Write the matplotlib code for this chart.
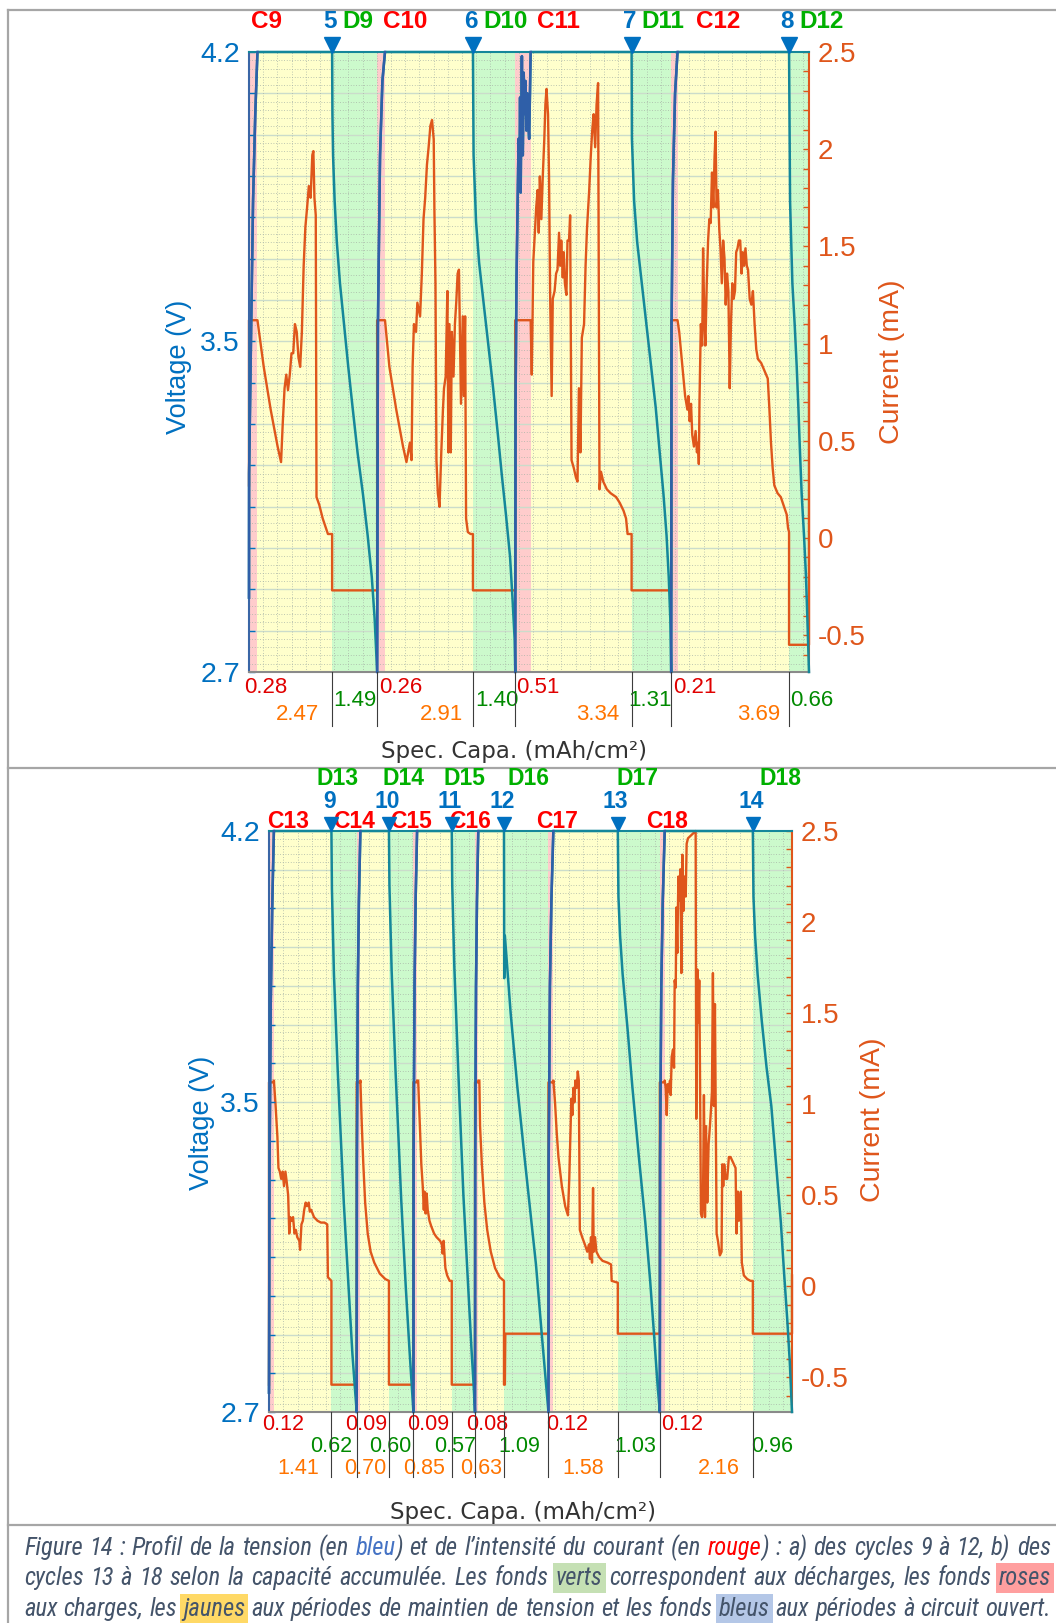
import matplotlib
matplotlib.use("Agg")
import matplotlib.pyplot as plt
import numpy as np
from matplotlib import font_manager
from matplotlib.font_manager import FontProperties
from matplotlib.lines import Line2D
from matplotlib.transforms import blended_transform_factory, ScaledTranslation

W, H, DPI = 1056, 1623, 100

plt.rcParams["font.family"] = ["Liberation Sans", "DejaVu Sans"]
plt.rcParams["axes.unicode_minus"] = False

# ---------------------------------------------------------------- data ----
I_CHARGE = 1.12            # mA, constant-current charge

# panel a : cycles 9-12
top_cycles = [9, 10, 11, 12]
top_steps = [5, 6, 7, 8]
top_charge = [0.28, 0.26, 0.51, 0.21]       # mAh/cm2, CC charge
top_hold = [2.47, 2.91, 3.34, 3.69]         # mAh/cm2, CV hold
top_dis = [1.49, 1.40, 1.31, 0.66]          # mAh/cm2, discharge
top_i_start, top_i_end = 0.27, 1.12

top_chg_f = [[0, 0.01, 0.26, 0.48, 0.74, 1.0],
             [0, 0.10, 0.37, 0.67, 1.0],
             [0, .02, .078, .157, .216, .275, .314, .353, .392, .431, .49, .549,
              .608, .667, .725, .784, .843, .902, .941, 1.0],
             [0, .056, .278, .611, 1.0]]
top_chg_v = [[2.88, 3.18, 3.54, 3.84, 4.05, 4.2],
             [2.7, 3.54, 3.95, 4.13, 4.2],
             [2.7, 3.34, 3.64, 3.84, 3.99, 3.89, 4.09, 3.86, 4.05, 4.19, 3.95, 4.15,
              4.05, 4.13, 4.01, 4.10, 4.03, 3.99, 4.07, 4.2],
             [2.7, 3.54, 3.89, 4.1, 4.2]]

top_hold_f = [
    [0, .084, .177, .27, .316, .34, .363, .386, .409, .433, .456, .479, .502, .526,
     .549, .572, .595, .605, .619, .642, .665, .688, .712, .735, .749, .763, .781,
     .791, .828, .874, .944, 1.0],
    [0, .05, .128, .205, .244, .264, .283, .302, .314, .329, .353, .368, .399, .419,
     .438, .457, .477, .496, .516, .535, .554, .562, .574, .585, .601, .620, .640,
     .659, .671, .690, .709, .721, .733, .748, .760, .779, .795, .810, .826, .841,
     .849, .864, .884, .895, .911, .922, .942, .973, 1.0],
    [0, .011, .026, .044, .055, .069, .080, .091, .106, .120, .135, .146, .157, .172,
     .182, .193, .208, .219, .237, .252, .266, .281, .292, .303, .318, .328, .339,
     .354, .365, .380, .391, .405, .427, .449, .464, .478, .493, .507, .529, .544,
     .558, .580, .595, .609, .624, .639, .653, .668, .675, .682, .697, .719, .755,
     .792, .847, .883, .920, .945, .960, 1.0],
    [0, .015, .044, .068, .088, .097, .109, .121, .132, .147, .162, .174, .185, .191,
     .197, .209, .221, .229, .241, .25, .262, .274, .285, .297, .309, .321, .332,
     .341, .35, .362, .374, .385, .397, .409, .421, .432, .444, .456, .468, .479,
     .491, .503, .515, .526, .538, .55, .562, .574, .585, .597, .609, .621, .632,
     .647, .662, .676, .691, .706, .721, .75, .779, .809, .824, .838, .853, .868,
     .897, .926, .956, .979, .991, 1.0],
]
top_hold_i = [
    [1.12, .88, .66, .47, .39, .60, .77, .84, .76, .84, .95, .95, 1.10, 1.06, .93,
     .88, 1.06, 1.20, 1.40, 1.60, 1.70, 1.81, 1.75, 1.97, 1.99, 1.75, 1.66, .21, .17,
     .10, .02, .02],
    [1.12, .88, .66, .47, .39, .44, .49, .40, .88, 1.10, 1.06, 1.21, 1.14, 1.36,
     1.64, 1.75, 1.92, 2.01, 2.12, 2.15, 2.05, 1.68, 1.31, .40, .23, .16, .44, .66,
     .77, .83, 1.27, .44, 1.10, .44, 1.06, .83, 1.10, 1.21, 1.36, 1.38, 1.14, .69,
     1.14, .73, 1.14, .10, .03, .02, .02],
    [1.12, .84, 1.42, 1.59, 1.70, 1.79, 1.57, 1.86, 1.64, 1.86, 2.05, 2.23, 2.31,
     2.18, 1.86, 1.25, .73, 1.23, 1.27, 1.36, 1.38, 1.57, 1.40, 1.53, 1.34, 1.47,
     1.31, 1.25, 1.53, 1.53, 1.66, .40, .36, .31, .29, .77, .44, 1.03, 1.10, 1.40,
     1.59, 1.79, 1.96, 2.09, 2.18, 2.01, 2.23, 2.34, 1.31, .25, .34, .29, .25, .23,
     .21, .18, .14, .10, .02, .02],
    [1.12, 1.06, .88, .73, .66, .73, .60, .69, .53, .47, .55, .44, .49, .38, .71,
     1.10, .99, 1.49, 1.10, .99, 1.31, 1.53, 1.64, 1.62, 1.88, 1.70, 1.96, 2.09,
     1.70, 1.79, 1.59, 1.49, 1.31, 1.53, 1.44, 1.20, 1.36, 1.27, .77, 1.10, 1.31,
     1.23, 1.27, 1.47, 1.49, 1.53, 1.53, 1.36, 1.47, 1.40, 1.49, 1.40, 1.38, 1.23,
     1.20, 1.27, 1.10, .97, .92, .90, .86, .82, .66, .49, .36, .27, .23, .21, .16,
     .12, .05, .03],
]

top_dis_f = [[0, .007, .021, .056, .105, .175, .266, .357, .455, .566, .685, .790, .881, .944, 1.0],
             [0, .015, .073, .146, .255, .365, .474, .584, .679, .781, .876, .934, .985, 1.0],
             [0, .008, .063, .141, .258, .375, .492, .609, .711, .805, .883, .938, .977, 1.0],
             [0, .05, .167, .283, .383, .467, .55, .633, .75, .85, .917, 1.0]]
top_dis_v = [[4.2, 4.05, 3.95, 3.84, 3.74, 3.64, 3.54, 3.44, 3.34, 3.23, 3.13, 3.03, 2.93, 2.83, 2.7],
             [4.2, 3.95, 3.79, 3.69, 3.59, 3.49, 3.39, 3.28, 3.18, 3.08, 2.98, 2.88, 2.78, 2.7],
             [4.2, 3.99, 3.84, 3.74, 3.64, 3.54, 3.44, 3.34, 3.23, 3.13, 3.03, 2.93, 2.83, 2.7],
             [4.2, 3.84, 3.64, 3.54, 3.44, 3.34, 3.23, 3.13, 3.03, 2.93, 2.83, 2.7]]
top_dis_cf = [[0, 1], [0, 1], [0, 1], [0, 1]]
top_dis_ci = [[-0.27, -0.27], [-0.27, -0.27], [-0.27, -0.27], [-0.55, -0.55]]

# panel b : cycles 13-18
bot_cycles = [13, 14, 15, 16, 17, 18]
bot_steps = [9, 10, 11, 12, 13, 14]
bot_charge = [0.12, 0.09, 0.09, 0.08, 0.12, 0.12]
bot_hold = [1.41, 0.70, 0.85, 0.63, 1.58, 2.16]
bot_dis = [0.62, 0.60, 0.57, 1.09, 1.03, 0.96]
bot_i_start, bot_i_end = -0.54, 0.06

bot_chg_f = [[0, .1, .35, .65, 1.0]] + [[0, .05, .3, .6, 1.0]] * 5
bot_chg_v = [[2.75, 3.3, 3.75, 4.0, 4.2]] + [[2.7, 3.35, 3.8, 4.02, 4.2]] * 5

bot_hold_f = [
    [0, .030, .061, .079, .103, .127, .152, .176, .2, .224, .248, .267, .285, .309,
     .333, .358, .382, .406, .442, .455, .479, .503, .527, .552, .576, .606, .624,
     .648, .697, .758, .818, .879, .927, .939, 1.0],
    [0, .051, .103, .167, .256, .359, .487, .679, .872, 1.0],
    [0, .031, .082, .122, .163, .194, .214, .245, .276, .306, .357, .408, .49, .561,
     .663, .714, .735, .765, .816, .867, .939, 1.0],
    [0, .042, .069, .139, .236, .347, .486, .653, .833, 1.0],
    [0, .026, .053, .079, .132, .184, .226, .247, .263, .279, .295, .311, .326, .342,
     .363, .379, .395, .411, .447, .489, .526, .553, .568, .584, .6, .616, .626, .647,
     .668, .711, .763, .842, .895, .905, 1.0],
    [0, .011, .023, .034, .045, .060, .068, .079, .094, .106, .113, .125, .132, .143,
     .155, .166, .177, .189, .2, .211, .223, .238, .249, .264, .351, .358, .370, .381,
     .392, .4, .411, .423, .434, .445, .457, .468, .483, .498, .513, .525, .536, .547,
     .558, .570, .581, .589, .604, .626, .645, .653, .664, .675, .691, .709, .728,
     .747, .766, .785, .804, .815, .830, .842, .853, .864, .875, .898, .936, .974, 1.0],
]
bot_hold_i = [
    [1.13, .99, .82, .65, .63, .59, .63, .55, .63, .57, .50, .29, .38, .36, .38, .29,
     .31, .27, .25, .20, .34, .36, .42, .46, .44, .46, .41, .42, .38, .36, .35, .35,
     .34, .05, .03],
    [1.13, .88, .67, .46, .29, .19, .13, .07, .04, .03],
    [1.13, 1.13, .88, .67, .55, .42, .52, .40, .51, .42, .36, .33, .29, .27, .25, .23,
     .18, .25, .10, .06, .03, .03],
    [1.13, 1.13, .88, .67, .46, .31, .19, .10, .05, .03],
    [1.13, 1.01, .84, .71, .55, .44, .39, .59, .82, 1.03, .94, 1.09, 1.01, 1.13, 1.09,
     1.18, 1.13, .31, .27, .23, .19, .23, .15, .27, .13, .54, .19, .27, .19, .16, .14,
     .13, .12, .03, .02],
    [1.13, 1.09, .94, 1.11, 1.07, 1.13, 1.05, 1.26, 1.30, 1.20, 1.68, 1.64, 2.08, 1.83,
     2.25, 2.12, 2.29, 1.72, 2.37, 2.06, 2.25, 2.14, 2.43, 2.46, 2.5, .92, 1.74, 1.45,
     1.68, 1.20, .40, .38, .46, 1.05, .38, .88, .46, .78, .88, .97, 1.07, 1.72, .99,
     1.55, .82, .29, .25, .17, .19, .67, .55, .67, .59, .59, .71, .71, .69, .67, .65,
     .29, .52, .36, .46, .52, .13, .06, .04, .03, .03],
]

bot_dis_f = [[0, .02, .1, .25, .49, .68, .83, .93, 1.0],
             [0, .02, .11, .27, .5, .69, .84, .94, 1.0],
             [0, .02, .11, .28, .5, .7, .85, .94, 1.0],
             [0, .005, .02, .15, .30, .46, .59, .72, .85, 1.0],
             [0, .015, .054, .115, .231, .346, .5, .654, .769, .869, .946, 1.0],
             [0, .016, .057, .122, .228, .35, .472, .553, .634, .715, .797, .878, .943, 1.0]]
bot_dis_v = [[4.2, 4.05, 3.83, 3.58, 3.24, 3.02, 2.85, 2.76, 2.7],
             [4.2, 4.06, 3.84, 3.58, 3.25, 3.02, 2.86, 2.76, 2.7],
             [4.2, 4.06, 3.85, 3.58, 3.26, 3.03, 2.86, 2.77, 2.7],
             [4.2, 3.82, 3.93, 3.73, 3.54, 3.36, 3.22, 3.08, 2.9, 2.7],
             [4.2, 4.03, 3.93, 3.83, 3.69, 3.54, 3.36, 3.19, 3.04, 2.89, 2.77, 2.7],
             [4.2, 4.03, 3.93, 3.83, 3.71, 3.59, 3.49, 3.39, 3.29, 3.19, 3.06, 2.94, 2.83, 2.7]]
bot_dis_cf = [[0, 1], [0, 1], [0, 1], [0, .02, .03, 1], [0, 1], [0, 1]]
bot_dis_ci = [[-0.54, -0.54], [-0.54, -0.54], [-0.54, -0.54],
              [-0.54, -0.54, -0.26, -0.26], [-0.26, -0.26], [-0.26, -0.26]]

# ---------------------------------------------------------------- style ---
PINK, YELLOW, GREEN = "#ffcccc", "#ffffcc", "#ccfacc"
TEAL, DBLUE, ORANGE = "#14879a", "#2f5fa8", "#df561b"
AXBLUE = "#0070c0"
RED, DGREEN, LORANGE = "#e00000", "#008a00", "#ff7400"
CRED, CGREEN = "#ff0000", "#00b000"
FRAME = "#a6a6a6"

fig = plt.figure(figsize=(W / DPI, H / DPI), dpi=DPI)


def fy(py):
    return 1 - py / H


def build_series(charge, hold, dis, chg_f, chg_v, hold_f, hold_i,
                 dis_f, dis_v, dis_cf, dis_ci, i_start, i_end):
    vx, vy = [], []
    cx, cy = [0.0], [i_start]
    charge_parts = []
    x0 = 0.0
    for k in range(len(charge)):
        c, h, d = charge[k], hold[k], dis[k]
        sx = [x0 + f * c for f in chg_f[k]]
        charge_parts.append((sx, chg_v[k]))
        vx += sx
        vy += list(chg_v[k])
        vx.append(x0 + c + h)
        vy.append(4.2)
        vx += [x0 + c + h + f * d for f in dis_f[k]]
        vy += list(dis_v[k])
        cx += [x0, x0 + c]
        cy += [I_CHARGE, I_CHARGE]
        cx += [x0 + c + f * h for f in hold_f[k]]
        cy += list(hold_i[k])
        cx += [x0 + c + h + f * d for f in dis_cf[k]]
        cy += list(dis_ci[k])
        x0 += c + h + d
    cx.append(x0)
    cy.append(i_end)
    return vx, vy, cx, cy, charge_parts


def draw_panel(p):
    left, top, right, bottom = p["rect"]
    ax = fig.add_axes([left / W, 1 - bottom / H, (right - left) / W, (bottom - top) / H])
    axc = ax.twinx()
    ax.set_zorder(3)
    axc.set_zorder(2)
    ax.patch.set_visible(False)

    charge, hold, dis = p["charge"], p["hold"], p["dis"]
    total = sum(charge) + sum(hold) + sum(dis)
    ax.set_xlim(0, total)
    ax.set_ylim(2.7, 4.2)
    axc.set_ylim(-0.69, 2.5)

    # coloured backgrounds
    starts = []
    x0 = 0.0
    for c, h, d in zip(charge, hold, dis):
        starts.append(x0)
        axc.axvspan(x0, x0 + c, color=PINK, lw=0, zorder=0)
        axc.axvspan(x0 + c, x0 + c + h, color=YELLOW, lw=0, zorder=0)
        axc.axvspan(x0 + c + h, x0 + c + h + d, color=GREEN, lw=0, zorder=0)
        x0 += c + h + d

    # fine grid
    for v in np.arange(2.72, 4.19, 0.02):
        f = (v - 2.7) / 1.5
        major = abs(round(v * 10) - v * 10) < 1e-6
        if major:
            axc.plot([0, 1], [f, f], transform=axc.transAxes, color="#cbdccb", lw=1.0, zorder=1)
        else:
            axc.plot([0, 1], [f, f], transform=axc.transAxes, color="#a8b4a8",
                     lw=0.6, ls=(0, (1, 2.2)), zorder=1)
    for gx in np.arange(p["vgrid"], total, p["vgrid"]):
        axc.axvline(gx, color="#a8b4a8", lw=0.6, ls=(0, (1, 2.2)), zorder=1)

    vx, vy, cx, cy, parts = build_series(charge, hold, dis, p["chg_f"], p["chg_v"],
                                         p["hold_f"], p["hold_i"], p["dis_f"], p["dis_v"],
                                         p["dis_cf"], p["dis_ci"], p["i_start"], p["i_end"])
    axc.plot(cx, cy, color=ORANGE, lw=1.7, clip_on=False, zorder=3)
    ax.plot(vx, vy, color=TEAL, lw=1.8, clip_on=False, zorder=3)
    for sx, sv in parts:
        ax.plot(sx, sv, color=DBLUE, lw=1.8, clip_on=False, zorder=4)

    # axes styling
    ax.set_xticks([])
    ax.set_yticks([2.7, 3.5, 4.2])
    ax.set_yticklabels(["2.7", "3.5", "4.2"])
    ax.set_yticks(np.arange(2.7, 4.21, 0.1), minor=True)
    ax.tick_params(axis="y", which="both", direction="in", color=AXBLUE, length=4,
                   width=1, labelcolor=AXBLUE, labelsize=20.5, pad=6.5)
    ax.tick_params(axis="y", which="minor", labelleft=False)
    axc.set_yticks(np.arange(-0.5, 2.51, 0.5))
    axc.set_yticklabels(["-0.5", "0", "0.5", "1", "1.5", "2", "2.5"])
    axc.set_yticks(np.arange(-0.6, 2.51, 0.1), minor=True)
    axc.tick_params(axis="y", which="both", direction="in", color=ORANGE, length=4.5,
                    width=1, labelcolor=ORANGE, labelsize=20, pad=6.5)
    for s in ["left", "bottom", "top"]:
        axc.spines[s].set_visible(False)
    axc.spines["right"].set_color(ORANGE)
    axc.spines["right"].set_linewidth(1.5)
    ax.spines["right"].set_visible(False)
    ax.spines["left"].set_color("#3a66a6")
    ax.spines["left"].set_linewidth(1.5)
    ax.spines["bottom"].set_color("#8a8a8a")
    ax.spines["bottom"].set_linewidth(1.5)
    ax.spines["top"].set_color(TEAL)
    ax.spines["top"].set_linewidth(1.5)

    tr_fig = blended_transform_factory(ax.transData, fig.transFigure)

    def put(xd, dx, py, s, **kw):
        t = tr_fig + ScaledTranslation(dx / DPI, 0, fig.dpi_scale_trans)
        ax.text(xd, fy(py), s, transform=t, clip_on=False, va="center", **kw)

    n = len(charge)
    for k in range(n):
        x0 = starts[k]
        c, h, d = charge[k], hold[k], dis[k]
        x_cv_end = x0 + c + h
        x_d_end = x_cv_end + d
        # triangle marker at the start of the discharge
        tri = ax.transData + ScaledTranslation(0, p["ms"] * 0.68 / DPI, fig.dpi_scale_trans)
        ax.plot([x_cv_end], [4.2], marker="v", ms=p["ms"], color=AXBLUE, mec=AXBLUE,
                transform=tri, clip_on=False, zorder=6)
        # cycle labels
        put(x0, p["c_dx"][k], p["cyc_y"], f"C{p['cycles'][k]}", color=CRED,
            fontsize=p["lab_fs"], fontweight="bold", ha="center")
        put(x_cv_end, -2, p["num_y"], str(p["steps"][k]), color=AXBLUE,
            fontsize=p["lab_fs"], fontweight="bold", ha="center")
        put(x_cv_end, p["d_dx"][k], p["dlab_y"], f"D{p['cycles'][k]}", color=CGREEN,
            fontsize=p["lab_fs"], fontweight="bold", ha=p["d_ha"])
        # capacities under the axis
        put(x0, p["red_dx"][k], p["red_y"], f"{c:.2f}", color=RED,
            fontsize=p["val_fs"], ha="left")
        put(x_cv_end, p["org_dx"][k], p["org_y"], f"{h:.2f}", color=LORANGE,
            fontsize=p["val_fs"], ha="right")
        kind, ha, gdx = p["grn"][k]
        gx = x_cv_end if kind == "start" else x_d_end
        put(gx, gdx, p["grn_y"], f"{d:.2f}", color=DGREEN, fontsize=p["val_fs"], ha=ha)
        # separator ticks below the axis
        sep = [x_cv_end] if k == n - 1 else [x_cv_end, x_d_end]
        for xs in sep:
            ax.plot([xs, xs], [fy(bottom), fy(p["sep_end"])], transform=tr_fig,
                    color="#3c3c3c", lw=0.8, clip_on=False, zorder=5)

    fig.text(p["ylab"][0] / W, fy(p["ylab"][1]), "Voltage (V)", color=AXBLUE,
             fontsize=19.5, rotation=90, ha="center", va="center")
    fig.text(p["clab"][0] / W, fy(p["clab"][1]), "Current (mA)", color=ORANGE,
             fontsize=20.5, rotation=90, ha="center", va="center")
    fig.text(p["xlab"][0] / W, fy(p["xlab"][1]), "Spec. Capa. (mAh/cm²)", color="#333333",
             fontsize=16.5, family="DejaVu Sans", ha="center", va="center")


panel_a = dict(rect=(249, 52, 809, 672), charge=top_charge, hold=top_hold, dis=top_dis,
               cycles=top_cycles, steps=top_steps, chg_f=top_chg_f, chg_v=top_chg_v,
               hold_f=top_hold_f, hold_i=top_hold_i, dis_f=top_dis_f, dis_v=top_dis_v,
               dis_cf=top_dis_cf, dis_ci=top_dis_ci, i_start=top_i_start, i_end=top_i_end,
               vgrid=0.47, ms=11, lab_fs=17.5, val_fs=16,
               cyc_y=22, num_y=22, dlab_y=22, d_ha="left",
               c_dx=[17, 28, 43, 47], d_dx=[10, 10, 10, 10],
               red_y=688, grn_y=700, org_y=715, sep_end=726,
               red_dx=[-5, 2, 1, 2], org_dx=[-13, -10, -12, -9],
               grn=[("start", "left", 1), ("start", "left", 2), ("start", "left", -3),
                    ("start", "left", 1)],
               ylab=(179, 367), clab=(892, 362), xlab=(514, 752))

panel_b = dict(rect=(269, 831, 792, 1412), charge=bot_charge, hold=bot_hold, dis=bot_dis,
               cycles=bot_cycles, steps=bot_steps, chg_f=bot_chg_f, chg_v=bot_chg_v,
               hold_f=bot_hold_f, hold_i=bot_hold_i, dis_f=bot_dis_f, dis_v=bot_dis_v,
               dis_cf=bot_dis_cf, dis_ci=bot_dis_ci, i_start=bot_i_start, i_end=bot_i_end,
               vgrid=0.35, ms=10.5, lab_fs=16.5, val_fs=15.5,
               cyc_y=821, num_y=801, dlab_y=779, d_ha="center",
               c_dx=[19, -3, -2, -5, 9, 7], d_dx=[6, 15, 13, 25, 20, 28],
               red_y=1425, grn_y=1447, org_y=1469, sep_end=1477,
               red_dx=[-7, -12, -6, -9, -2, 1], org_dx=[-12, -3, -7, -2, -14, -13],
               grn=[("end", "right", -4), ("end", "right", -2), ("end", "right", 1),
                    ("start", "left", -6), ("start", "left", -3), ("start", "left", -2)],
               ylab=(202, 1123), clab=(873, 1120), xlab=(523, 1512))

draw_panel(panel_a)
draw_panel(panel_b)

# table-like frame around the two panels and the caption
for py in (10, 768, 1525):
    fig.add_artist(Line2D([8 / W, 1], [fy(py), fy(py)], transform=fig.transFigure,
                          color=FRAME, lw=1.6))
fig.add_artist(Line2D([8 / W, 8 / W], [fy(10), 0], transform=fig.transFigure,
                      color=FRAME, lw=1.6))

# ---------------------------------------------------------------- caption -
CAP = "#44546a"
caption = [
    [("Figure 14 : Profil de la tension (en ", None, None), ("bleu", "#4472c4", None),
     (") et de l’intensité du courant (en ", None, None), ("rouge", "#ff0000", None),
     (") : a) des cycles 9 à 12, b) des", None, None)],
    [("cycles 13 à 18 selon la capacité accumulée. Les fonds ", None, None),
     ("verts", None, "#c5e0b4"), (" correspondent aux décharges, les fonds ", None, None),
     ("roses", None, "#ff9f9f")],
    [("aux charges, les ", None, None), ("jaunes", None, "#ffd966"),
     (" aux périodes de maintien de tension et les fonds ", None, None),
     ("bleus", None, "#b4c7e7"), (" aux périodes à circuit ouvert.", None, None)],
]
cap_y = [1548, 1578, 1609]
cap_x0, cap_x1 = 24, 1051


def narrow_italic():
    # a condensed italic face looks closest to the Calibri caption
    best = None
    order = ["Liberation Sans Narrow", "Roboto Condensed", "Noto Sans", "Open Sans",
             "DejaVu Sans"]
    for f in font_manager.fontManager.ttflist:
        if f.style not in ("italic", "oblique") or f.weight not in (400, "normal", "regular"):
            continue
        tag = (str(f.stretch) + " " + f.name + " " + f.fname).lower()
        if "extra" in tag or "ultra" in tag or "semi" in tag:
            continue
        if "condensed" not in tag and "narrow" not in tag:
            continue
        rank = next((i for i, o in enumerate(order) if f.name.startswith(o)), len(order))
        if best is None or rank < best[0]:
            best = (rank, f.fname)
    return best[1] if best else None


cap_font = narrow_italic()
renderer = fig.canvas.get_renderer()


def cap_props(fs):
    if cap_font:
        return dict(fontproperties=FontProperties(fname=cap_font, size=fs))
    return dict(fontsize=fs, family=["Liberation Sans", "DejaVu Sans"], style="italic")


def split_words(segs):
    words = [[]]
    for txt, col, bg in segs:
        for j, part in enumerate(txt.split(" ")):
            if j > 0:
                words.append([])
            if part:
                words[-1].append((part, col, bg))
    return [w for w in words if w]


def lay_caption(fs):
    made, need = [], 0
    rows = []
    for segs in caption:
        row = []
        for w in split_words(segs):
            ws = []
            for part, col, bg in w:
                t = fig.text(0, 0, part, color=col or CAP, va="center", ha="left",
                             **cap_props(fs))
                if bg:
                    t.set_bbox(dict(boxstyle="square,pad=0.12", fc=bg, ec="none"))
                made.append(t)
                ws.append((t, t.get_window_extent(renderer).width))
            row.append(ws)
        sp = fig.text(0, 0, "a a", **cap_props(fs))
        sp2 = fig.text(0, 0, "aa", **cap_props(fs))
        space = sp.get_window_extent(renderer).width - sp2.get_window_extent(renderer).width
        sp.remove()
        sp2.remove()
        width = sum(wd for w in row for _, wd in w) + space * (len(row) - 1)
        need = max(need, width)
        rows.append(row)
    return made, rows, need


# size the caption so that its widest line just fills the cell
fs = 16
made, rows, need = lay_caption(fs)
for t in made:
    t.remove()
fs = min(18, fs * (cap_x1 - cap_x0) / need * 0.995)
made, rows, need = lay_caption(fs)

for row, py in zip(rows, cap_y):
    widths = [sum(wd for _, wd in w) for w in row]
    gap = (cap_x1 - cap_x0 - sum(widths)) / max(len(row) - 1, 1)
    x = cap_x0
    for w, ww in zip(row, widths):
        xx = x
        for t, wd in w:
            t.set_position((xx / W, fy(py)))
            xx += wd
        x += ww + gap

fig.savefig("out.png", dpi=DPI, facecolor="white")
